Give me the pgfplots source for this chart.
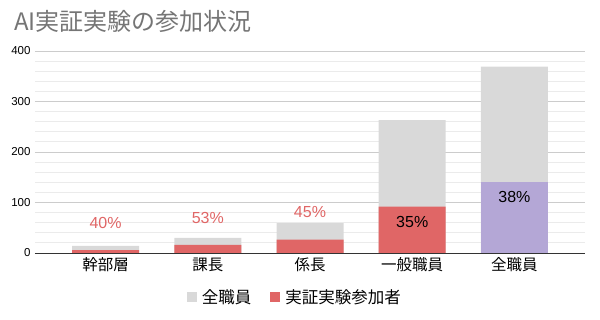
\documentclass[border=0pt]{standalone}
\usepackage{fontspec}
\setmainfont{Liberation Sans}
\newfontfamily\cjk{Noto Sans CJK JP}
\usepackage{pgfplots}
\pgfplotsset{compat=1.18}
\definecolor{cgray}{HTML}{D9D9D9}
\definecolor{cred}{HTML}{E06666}
\definecolor{cpurple}{HTML}{B4A7D6}
\definecolor{ctitle}{HTML}{757575}
\definecolor{cmajor}{HTML}{CCCCCC}
\definecolor{cminor}{HTML}{EBEBEB}
\begin{document}
\begin{tikzpicture}
\path[use as bounding box] (0,0) rectangle (600pt,320pt);
\begin{axis}[
  at={(35pt,67pt)}, anchor=south west,
  scale only axis, width=550pt, height=202pt,
  xmin=-0.69, xmax=4.69, ymin=0, ymax=400,
  xtick={0,1,2,3,4},
  xticklabels={幹部層,課長,係長,一般職員,全職員},
  xticklabel style={font=\cjk\fontsize{15.5}{18}\selectfont, yshift=-1pt},
  ytick={0,100,200,300,400},
  minor ytick={20,40,60,80,120,140,160,180,220,240,260,280,320,340,360,380},
  yticklabel style={font=\fontsize{11.5}{13}\selectfont, xshift=-1pt},
  /pgf/number format/assume math mode=true,
  ymajorgrids, yminorgrids,
  major grid style={cmajor, line width=0.8pt},
  minor grid style={cminor, line width=0.8pt},
  major tick length=0pt, minor tick length=0pt,
  axis x line*=bottom, axis y line*=left,
  y axis line style={draw=none},
  x axis line style={draw=black!80, line width=0.9pt, -},
  legend style={at={(0.475,-0.218)}, anchor=center, draw=none, fill=none,
    legend columns=2, font=\cjk\fontsize{16.5}{19}\selectfont,
    /tikz/every even column/.append style={column sep=14pt},
    /tikz/every odd column/.append style={column sep=0pt},
    nodes={inner xsep=5pt}},
  legend image code/.code={\fill[#1] (0pt,-5pt) rectangle (10pt,5pt);},
  clip=false,
]
\addplot[ybar, bar width=67pt, bar shift=0pt, fill=cgray, draw=none]
  coordinates {(0,14) (1,30) (2,59) (3,263) (4,369)};
\addlegendentry{全職員}
\addplot[ybar, bar width=67pt, bar shift=0pt, fill=cred, draw=none]
  coordinates {(0,5.6) (1,16) (2,26.5) (3,92)};
\addlegendentry{実証実験参加者}
\addplot[ybar, bar width=67pt, bar shift=0pt, fill=cpurple, draw=none, forget plot]
  coordinates {(4,140)};
\addplot[draw=none, mark=none, forget plot,
  nodes near coords, point meta=explicit symbolic,
  every node near coord/.append style={anchor=center, text=cred, font=\fontsize{16}{18}\selectfont}]
  table[meta=label] {
x y label
0 60 40\%
1 70 53\%
2 81 45\%
};
\addplot[draw=none, mark=none, forget plot,
  nodes near coords, point meta=explicit symbolic,
  every node near coord/.append style={anchor=center, text=black, font=\fontsize{16}{18}\selectfont}]
  table[meta=label] {
x y label
3 62 35\%
4 111.5 38\%
};
\end{axis}
\node[anchor=west, text=ctitle, font=\cjk\fontsize{24}{27}\selectfont, inner sep=0pt] at (14pt,299pt) {AI実証実験の参加状況};
\end{tikzpicture}
\end{document}
